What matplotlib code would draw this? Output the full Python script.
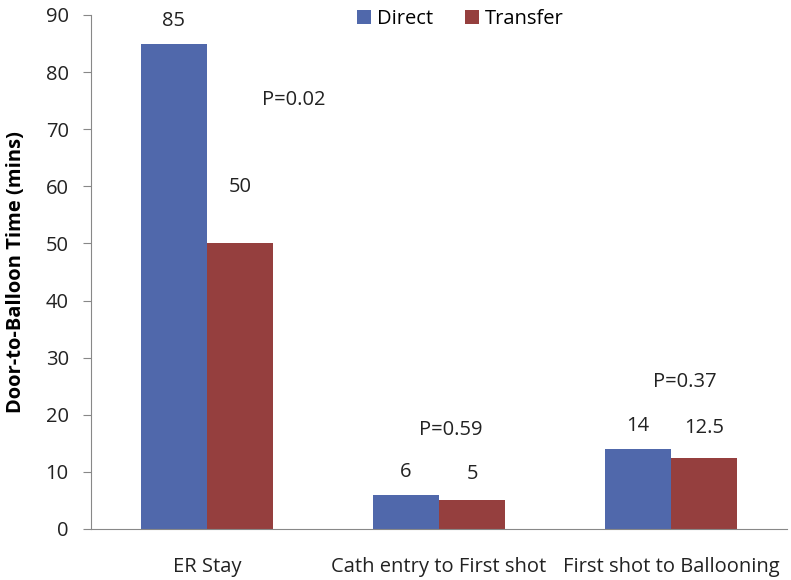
import matplotlib.pyplot as plt
import numpy as np

plt.rcParams['font.family'] = ['Open Sans', 'DejaVu Sans']

categories = ['ER Stay', 'Cath entry to First shot', 'First shot to Ballooning']
direct = [85, 6, 14]
transfer = [50, 5, 12.5]
direct_label_y = [89.0, 10.0, 18.1]
transfer_label_y = [59.8, 9.7, 17.6]
p_values = ['P=0.02', 'P=0.59', 'P=0.37']
p_x = [0.375, 1.05, 2.06]
p_y = [75.1, 17.4, 25.8]

blue = '#5068ab'
red = '#953f3e'
fs = 14.5

fig = plt.figure(figsize=(7.91, 5.80), dpi=100)
ax = fig.add_axes([91 / 791, 51 / 580, 696 / 791, 514 / 580])

x = np.arange(len(categories))
w = 0.285
ax.bar(x - w / 2, direct, w, color=blue, label='Direct')
ax.bar(x + w / 2, transfer, w, color=red, label='Transfer')

for i in range(len(categories)):
    ax.text(x[i] - w / 2, direct_label_y[i], str(direct[i]), ha='center', va='center', fontsize=fs, color='#222222')
    ax.text(x[i] + w / 2, transfer_label_y[i], str(transfer[i]), ha='center', va='center', fontsize=fs, color='#222222')
    ax.text(p_x[i], p_y[i], p_values[i], ha='center', va='center', fontsize=fs, color='#222222')

ax.set_xlim(-0.5, 2.5)
ax.set_ylim(0, 90)
ax.set_yticks(range(0, 91, 10))
ax.set_xticks(x)
ax.set_xticklabels(categories)
ax.tick_params(axis='x', length=0, pad=20, labelsize=fs, labelcolor='#222222')
ax.tick_params(axis='y', length=6, color='#888888', labelsize=fs, labelcolor='#222222', pad=10)
for s in ['top', 'right']:
    ax.spines[s].set_visible(False)
for s in ['left', 'bottom']:
    ax.spines[s].set_color('#888888')
ax.set_ylabel('Door-to-Balloon Time (mins)', fontsize=fs, fontweight='bold', labelpad=14)

fig.legend(loc='upper center', bbox_to_anchor=(0.582, 1.015), ncol=2, frameon=False,
           fontsize=fs, handlelength=0.7, handleheight=0.7, handletextpad=0.3, columnspacing=1.6)

fig.savefig('out.png', dpi=100)
